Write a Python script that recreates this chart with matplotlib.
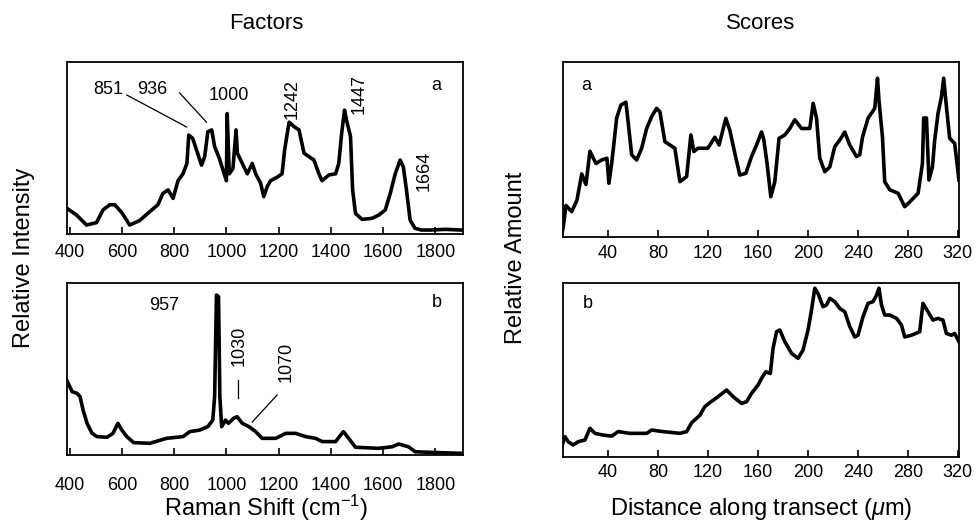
import numpy as np
import matplotlib
matplotlib.use("Agg")
import matplotlib.pyplot as plt

plt.rcParams['font.family'] = ['Liberation Sans', 'DejaVu Sans']
plt.rcParams['mathtext.fontset'] = 'custom'
plt.rcParams['mathtext.rm'] = 'Liberation Sans'
plt.rcParams['mathtext.it'] = 'Liberation Sans:italic'

# Factor a (Raman shift, relative intensity)
fa_shift = [389, 427, 465, 503, 528, 554, 573, 600, 630, 668, 707, 738, 757, 777, 796,
            815, 834, 849, 856, 871, 905, 917, 929, 944, 955, 973, 1000, 1003, 1011,
            1025, 1037, 1042, 1061, 1080, 1099, 1112, 1131, 1143, 1156, 1169, 1194,
            1213, 1223, 1240, 1259, 1278, 1297, 1316, 1335, 1354, 1366, 1392, 1418,
            1430, 1441, 1452, 1460, 1475, 1483, 1494, 1519, 1557, 1583, 1608, 1627,
            1646, 1665, 1677, 1689, 1703, 1722, 1746, 1784, 1837, 1900]
fa_int = [15, 11, 5.2, 6.6, 14, 17, 17, 12.4, 5.2, 7.8, 13, 17, 23.6, 25.6, 20.7,
          31, 35, 41, 57.5, 55.6, 40, 45, 59.5, 60.5, 50.8, 44, 31, 70, 35,
          38, 60.5, 47, 41, 35, 41, 35, 29.5, 21.7, 27.5, 31, 33,
          35, 49, 65, 62.4, 60.5, 47, 45, 43, 35, 31, 34.3, 35,
          41, 58.5, 72, 66, 56.6, 25.6, 12, 8.5, 9.1, 11, 14, 23.6,
          35, 43, 39, 25.6, 8, 3.3, 2.3, 2.3, 2.7, 2.3]

# Factor b
fb_shift = [389, 410, 428, 440, 452, 467, 486, 505, 543, 566, 585, 600, 619, 645, 707,
            771, 834, 860, 898, 929, 948, 955, 962, 970, 975, 982, 997, 1008, 1027,
            1041, 1061, 1086, 1112, 1137, 1189, 1227, 1265, 1303, 1341, 1367, 1418,
            1437, 1448, 1468, 1494, 1583, 1634, 1659, 1697, 1722, 1811, 1895]
fb_int = [43.6, 36.8, 35.9, 34, 26, 18.4, 12.6, 10.7, 10.3, 12.6, 18.4, 14.5, 10.7, 7.2, 6.8,
          9.7, 10.7, 13.6, 14.5, 16.5, 20.3, 34, 93, 92, 34, 16.5, 20.3, 18.4, 21.3,
          22.3, 18.4, 16.5, 13.6, 9.7, 9.7, 12.6, 12.6, 10.7, 9.7, 7.8, 7.8,
          11.6, 13.6, 9.7, 4.5, 3.9, 4.8, 6.4, 4.8, 1.9, 1.4, 1.0]

# Score a (distance along transect, relative amount)
sa_dist = [3, 4.3, 6.4, 11, 15.2, 19, 22.4, 25.6, 30.4, 35, 39.2, 40.8, 43, 44.8, 47,
           50.4, 54.4, 56.3, 59, 63, 67, 71, 75, 79, 81.6, 85.6, 89.6, 93.6, 97.6,
           103, 106.4, 108.8, 112, 120, 125.6, 129, 134.4, 137.6, 141.6, 145.6, 150.4,
           155, 159, 163, 164.8, 167.4, 170.4, 173.6, 177, 181.6, 185.6, 189.6, 195,
           201.6, 204.3, 207, 209.6, 213.6, 217.6, 221.6, 225.6, 229.6, 233.6, 239,
           241.6, 243.8, 248.3, 253.6, 255.8, 257, 259.8, 261.6, 265.6, 272.3, 277.6,
           281.6, 288.3, 291.8, 292.8, 295, 297, 299.8, 301.6, 304.3, 307, 308.8, 311,
           313.6, 317.6, 321]
sa_amt = [1, 6, 18, 14.5, 21, 36, 30, 49, 42, 44, 45, 30.7, 42, 53.5, 68,
          75.4, 77, 65, 47, 44, 50.7, 62, 68.8, 73.5, 71.6, 54.5, 52.6, 50.7, 31.6,
          34.5, 58.3, 48.8, 50.7, 50.7, 57, 52.6, 67.8, 61, 47.8, 35.4, 36.4,
          46, 52.6, 60, 55.6, 42, 23, 31.6, 56.4, 58.3, 62, 67, 62,
          62, 76.4, 68, 45, 37.3, 40, 51.6, 55.4, 60, 52.6, 46,
          47, 57, 68, 73.5, 90.7, 78, 57, 31.6, 27, 25, 17.3,
          20, 25, 42, 68, 68, 32.6, 40, 55.4, 70.7, 80, 90.7, 74.5,
          56.4, 53.5, 32.6]

# Score b
sb_dist = [2.2, 5.6, 8.2, 12.2, 16.2, 21.6, 25.6, 29.6, 36.2, 43, 48.2, 57.6, 71, 75,
           84.2, 97.6, 103, 107, 113.6, 117.6, 123, 128.2, 135, 140.2, 147, 151, 155,
           160.2, 163, 166.4, 170, 172.2, 175, 177.6, 181.6, 187, 192.2, 196.2, 200.2,
           203, 205.6, 208.2, 212.2, 215, 217.6, 221.6, 225.6, 229.6, 233.6, 237.6,
           240.2, 244.2, 248.2, 252.2, 255, 257, 259, 261.6, 265.6, 271, 275, 277.6,
           283, 289.6, 292.2, 296.2, 300.2, 304.2, 308.2, 311, 315, 317.6, 321]
sb_amt = [4, 11.7, 8.8, 6.9, 8.8, 9.8, 16.5, 13.6, 12.6, 12, 14.6, 13.6, 13.6, 15.5,
          14.6, 13.6, 14.6, 19.7, 24, 29, 32, 34.7, 38.5, 34.7, 30.8, 31.8, 36.6,
          41.4, 45.2, 49, 48, 62.5, 72, 73, 66.3, 59.6, 56.7, 61.5, 73,
          84.5, 97, 94, 86.4, 87.4, 91.2, 89.3, 85.4, 83.5, 75, 69,
          70, 80.6, 88.3, 89.3, 93, 97, 87.4, 81.6, 81.6, 79.7, 75.9, 69,
          70, 72, 88.3, 83.5, 78.7, 79.7, 78.7, 71, 70, 71, 66.3]

raman_ticks = [400, 600, 800, 1000, 1200, 1400, 1600, 1800]
dist_ticks = [40, 80, 120, 160, 200, 240, 280, 320]

fig = plt.figure(figsize=(9.76, 5.25), dpi=100)

ax_fa = fig.add_axes([0.0686, 0.5543, 0.4057, 0.3276])
ax_fb = fig.add_axes([0.0686, 0.1333, 0.4057, 0.3276])
ax_sa = fig.add_axes([0.5768, 0.5486, 0.4057, 0.3333])
ax_sb = fig.add_axes([0.5768, 0.1295, 0.4057, 0.3314])

lw = 2.6
ax_fa.plot(fa_shift, fa_int, color='black', lw=lw)
ax_fb.plot(fb_shift, fb_int, color='black', lw=lw)
ax_sa.plot(sa_dist, sa_amt, color='black', lw=lw)
ax_sb.plot(sb_dist, sb_amt, color='black', lw=lw)

for ax in (ax_fa, ax_fb):
    ax.set_xlim(390, 1905)
    ax.set_ylim(0, 100)
    ax.set_xticks(raman_ticks)
for ax in (ax_sa, ax_sb):
    ax.set_xlim(4, 321)
    ax.set_ylim(0, 100)
    ax.set_xticks(dist_ticks)

for ax, pad in ((ax_fa, 7), (ax_fb, 16), (ax_sa, 6), (ax_sb, 5)):
    ax.set_yticks([])
    ax.tick_params(axis='x', direction='in', length=5, width=1.2, pad=pad,
                   labelsize=13)
    for s in ax.spines.values():
        s.set_linewidth(1.3)

# peak labels, factor a
fs = 13
ax_fa.text(547, 84, '851', fontsize=fs, ha='center', va='center')
ax_fa.text(716, 84, '936', fontsize=fs, ha='center', va='center')
ax_fa.plot([619, 848], [80.8, 62.2], color='black', lw=0.9)
ax_fa.plot([821, 924], [82, 65], color='black', lw=0.9)
ax_fa.text(1010, 80.8, '1000', fontsize=fs, ha='center', va='center')
ax_fa.text(1253, 78.5, '1242', fontsize=fs, ha='center', va='center', rotation=90)
ax_fa.text(1508, 81.4, '1447', fontsize=fs, ha='center', va='center', rotation=90)
ax_fa.text(1758, 36.6, '1664', fontsize=fs, ha='center', va='center', rotation=90)
ax_fa.text(1804, 86.6, 'a', fontsize=fs, ha='center', va='center')

# peak labels, factor b
ax_fb.text(760, 87, '957', fontsize=fs, ha='center', va='center')
ax_fb.text(1050, 63.4, '1030', fontsize=fs, ha='center', va='center', rotation=90)
ax_fb.plot([1046, 1046], [43.6, 33], color='black', lw=0.9)
ax_fb.text(1230, 54.4, '1070', fontsize=fs, ha='center', va='center', rotation=90)
ax_fb.plot([1194, 1099], [34.9, 19.2], color='black', lw=0.9)
ax_fb.text(1804, 88.7, 'b', fontsize=fs, ha='center', va='center')

ax_sa.text(23, 86.3, 'a', fontsize=fs, ha='center', va='center')
ax_sb.text(24, 88, 'b', fontsize=fs, ha='center', va='center')

lab = 17
fig.text(0.2725, 0.956, 'Factors', fontsize=16, ha='center', va='center')
fig.text(0.7797, 0.956, 'Scores', fontsize=16, ha='center', va='center')
fig.text(0.0246, 0.508, 'Relative Intensity', fontsize=lab, ha='center',
         va='center', rotation=90)
fig.text(0.529, 0.508, 'Relative Amount', fontsize=lab, ha='center',
         va='center', rotation=90)
fig.text(0.2725, 0.032, 'Raman Shift (cm$^{\\mathregular{-1}}$)', fontsize=lab,
         ha='center', va='center')
fig.text(0.7797, 0.030, 'Distance along transect ($\\mu$m)', fontsize=lab,
         ha='center', va='center')

fig.savefig('out.png', dpi=100)
